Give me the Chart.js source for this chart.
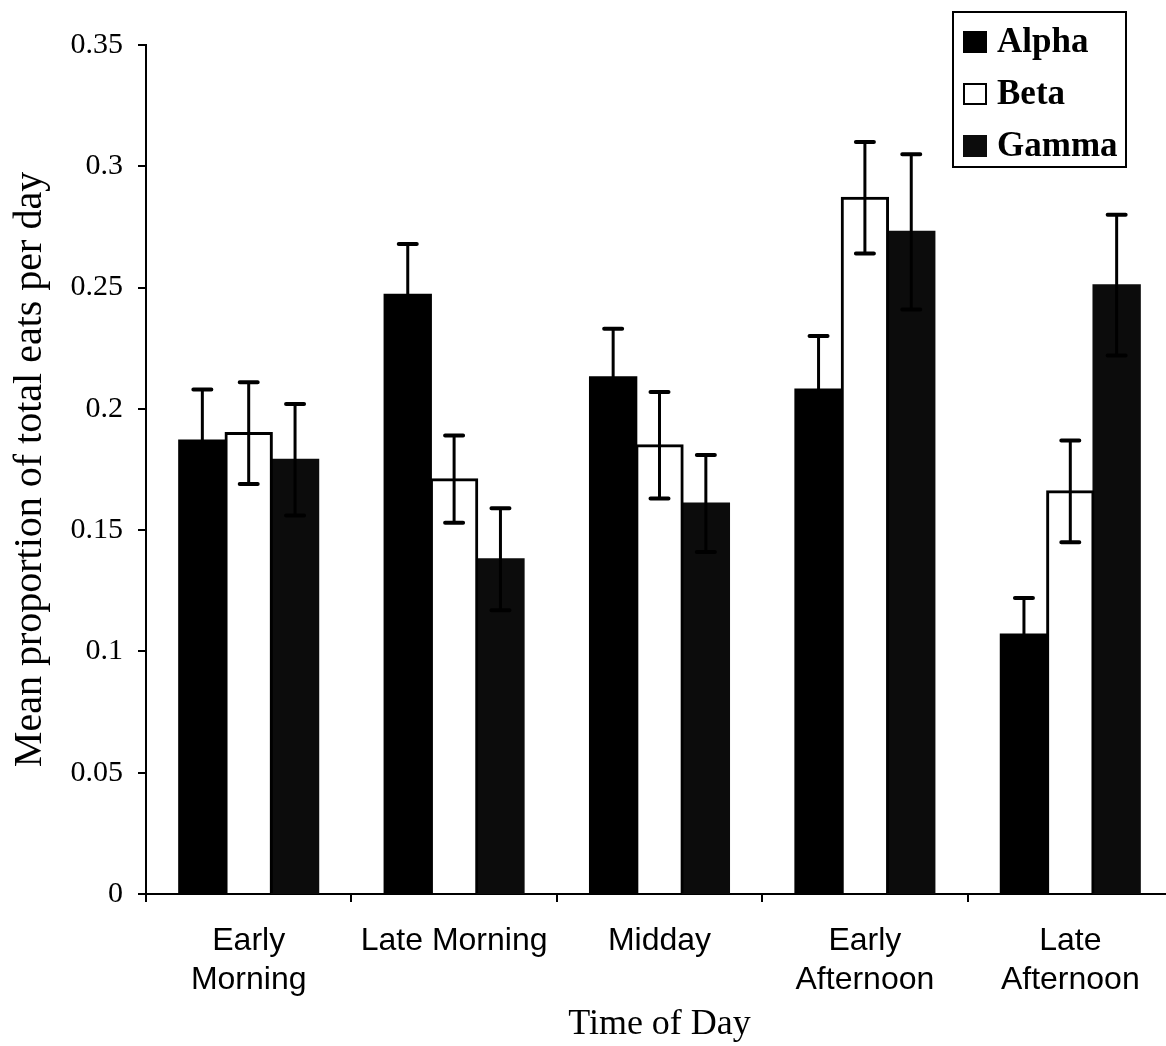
<!DOCTYPE html>
<html>
<head>
<meta charset="utf-8">
<title>Mean proportion of total eats per day</title>
<script src="https://cdn.jsdelivr.net/npm/chart.js@4"></script>
<style>
  html, body { margin: 0; padding: 0; background: #fff; overflow: hidden; }
  canvas { display: block; }
</style>
</head>
<body>
<canvas id="graphic" width="1180" height="1046"></canvas>
<script>
var categories = [['Early', 'Morning'], 'Late Morning', 'Midday', ['Early', 'Afternoon'], ['Late', 'Afternoon']];

var alphaValues = [0.187, 0.247, 0.213, 0.208, 0.107];
var alphaErrors = [0.021, 0.021, 0.020, 0.022, 0.015];
var betaValues = [0.190, 0.171, 0.185, 0.287, 0.166];
var betaErrors = [0.021, 0.018, 0.022, 0.023, 0.021];
var gammaValues = [0.179, 0.138, 0.161, 0.273, 0.251];
var gammaErrors = [0.023, 0.021, 0.020, 0.032, 0.029];

var yTickLabels = ['0', '0.05', '0.1', '0.15', '0.2', '0.25', '0.3', '0.35'];

var serif = '"Liberation Serif", "Times New Roman", serif';
var sans = '"Liberation Sans", Arial, sans-serif';

Chart.defaults.color = '#000';

// error bars drawn on top of each bar, from the y scale
var errorBars = {
    id: 'errorBars',
    afterDatasetsDraw: function (chart) {
        var c = chart.ctx;
        var y = chart.scales.y;
        c.save();
        c.strokeStyle = '#000';
        chart.data.datasets.forEach(function (ds, i) {
            var meta = chart.getDatasetMeta(i);
            meta.data.forEach(function (bar, j) {
                var v = ds.data[j], e = ds.errors[j];
                var top = y.getPixelForValue(v + e);
                var low = y.getPixelForValue(v - e);
                c.lineWidth = 3;
                c.lineCap = 'butt';
                c.beginPath();
                c.moveTo(bar.x, low);
                c.lineTo(bar.x, top);
                c.stroke();
                c.lineWidth = 4;
                c.lineCap = 'round';
                c.beginPath();
                c.moveTo(bar.x - 9, top);
                c.lineTo(bar.x + 9, top);
                c.moveTo(bar.x - 9, low);
                c.lineTo(bar.x + 9, low);
                c.stroke();
            });
        });
        c.restore();
    }
};

// boxed legend in the top right corner
var boxLegend = {
    id: 'boxLegend',
    afterDraw: function (chart, args, opts) {
        var c = chart.ctx;
        c.save();
        c.lineWidth = 2;
        c.strokeStyle = '#000';
        c.strokeRect(opts.left, opts.top, opts.width, opts.height);
        c.font = 'bold 35px ' + serif;
        c.textBaseline = 'middle';
        c.fillStyle = '#000';
        chart.data.datasets.forEach(function (ds, i) {
            var cy = opts.top + opts.first + i * opts.step;
            c.fillStyle = ds.backgroundColor;
            c.fillRect(opts.left + 10, cy - 11, 24, 22);
            if (ds.borderWidth) {
                c.lineWidth = 2;
                c.strokeRect(opts.left + 11, cy - 10, 22, 20);
            }
            c.fillStyle = '#000';
            c.fillText(ds.label, opts.left + 44, cy + 1);
        });
        c.restore();
    }
};

var ctx = document.getElementById('graphic').getContext('2d');

var eatsData = {
    labels: categories,
    datasets: [{
        label: 'Alpha',
        data: alphaValues,
        errors: alphaErrors,
        backgroundColor: '#000000',
        borderWidth: 0
    }, {
        label: 'Beta',
        data: betaValues,
        errors: betaErrors,
        backgroundColor: '#ffffff',
        borderColor: '#000000',
        borderWidth: 3
    }, {
        label: 'Gamma',
        data: gammaValues,
        errors: gammaErrors,
        backgroundColor: '#0c0c0c',
        borderWidth: 0
    }]
};

var eatsOptions = {
    responsive: false,
    animation: false,
    layout: {
        padding: { left: 0, top: 45, right: 7, bottom: 0 }
    },
    datasets: {
        bar: {
            categoryPercentage: 0.677,
            barPercentage: 1.0,
            inflateAmount: 1
        }
    },
    plugins: {
        legend: { display: false },
        tooltip: { enabled: false },
        boxLegend: { left: 953, top: 12, width: 173, height: 155, first: 30, step: 52 }
    },
    scales: {
        x: {
            grid: {
                offset: true,
                drawOnChartArea: false,
                drawTicks: true,
                tickLength: 8,
                color: '#000',
                lineWidth: 2
            },
            border: { display: true, color: '#000', width: 2 },
            ticks: {
                autoSkip: false,
                maxRotation: 0,
                padding: 20,
                color: '#000',
                font: { family: sans, size: 32, lineHeight: 1.22 }
            },
            title: {
                display: true,
                text: 'Time of Day',
                color: '#000',
                padding: { top: 0, bottom: 0 },
                font: { family: serif, size: 36, lineHeight: 1.2 }
            },
            afterFit: function (scale) { scale.height = 152; }
        },
        y: {
            min: 0,
            max: 0.35,
            grid: {
                drawOnChartArea: false,
                drawTicks: true,
                tickLength: 8,
                color: '#000',
                lineWidth: 2
            },
            border: { display: true, color: '#000', width: 2 },
            ticks: {
                stepSize: 0.05,
                padding: 15,
                color: '#000',
                font: { family: serif, size: 30 },
                callback: function (value, index) { return yTickLabels[index]; }
            },
            title: {
                display: true,
                text: 'Mean proportion of total eats per day',
                color: '#000',
                padding: { top: 6, bottom: 0 },
                font: { family: serif, size: 40, lineHeight: 1.2 }
            },
            afterFit: function (scale) { scale.width = 146; }
        }
    }
};

var graphic = new Chart(ctx, {
    type: 'bar',
    data: eatsData,
    options: eatsOptions,
    plugins: [errorBars, boxLegend]
});
</script>
</body>
</html>
